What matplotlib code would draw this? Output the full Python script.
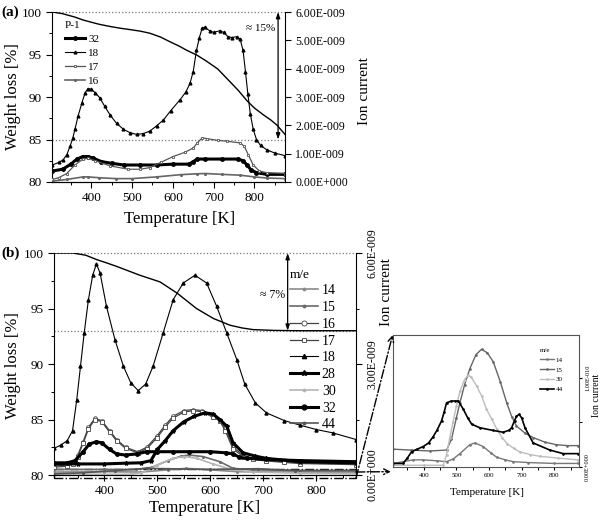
import matplotlib
matplotlib.use('Agg')
import matplotlib.pyplot as plt
from matplotlib.ticker import FuncFormatter, MultipleLocator
from matplotlib.patches import Rectangle

plt.rcParams['font.family'] = ['Liberation Serif', 'DejaVu Serif']

# ---------------- (a) sample P-1 ----------------
T_wl_a = [305, 330, 360, 380, 400, 420, 446, 470, 491, 520, 544, 570, 593, 615, 634, 660, 683, 710, 732, 760, 781, 800, 822, 840, 855, 875]
wl_a = [100.0, 99.8, 99.4, 99.06, 98.8, 98.55, 98.3, 98.1, 97.96, 97.75, 97.5, 97.05, 96.5, 96.0, 95.5, 94.9, 94.2, 93.3, 92.2, 90.8, 89.6, 88.7, 87.9, 87.3, 86.7, 85.6]

# ion currents in 1e-9 A
T18_a = [305, 320, 331, 340, 348, 355, 360, 368, 377, 385, 392, 400, 410, 421, 433, 446, 462, 479, 495, 511,
         528, 544, 560, 577, 595, 618, 632, 642, 650, 658, 665, 672, 678, 690, 700, 715, 725, 735, 745, 757,
         765, 772, 778, 784, 790, 797, 805, 815, 830, 850, 875]
i18_a = [0.60, 0.69, 0.78, 0.96, 1.26, 1.56, 1.86, 2.34, 2.79, 3.15, 3.30, 3.27, 3.15, 2.97, 2.67, 2.37, 2.07, 1.86, 1.74, 1.68,
         1.71, 1.80, 1.98, 2.19, 2.52, 2.91, 3.18, 3.48, 3.90, 4.65, 5.10, 5.43, 5.46, 5.34, 5.28, 5.34, 5.28, 5.13, 5.10, 5.13,
         5.04, 4.65, 3.90, 3.09, 2.40, 1.86, 1.50, 1.29, 1.14, 1.02, 0.93]
T32_a = [305, 330, 350, 365, 380, 392, 405, 425, 450, 480, 520, 560, 600, 640, 650, 660, 680, 720, 760, 772, 782, 792, 805, 830, 875]
i32_a = [0.39, 0.45, 0.63, 0.81, 0.90, 0.90, 0.84, 0.72, 0.66, 0.60, 0.60, 0.60, 0.63, 0.63, 0.72, 0.81, 0.81, 0.81, 0.81, 0.75, 0.60, 0.42, 0.33, 0.27, 0.27]
T17_a = [305, 320, 340, 360, 380, 392, 410, 446, 491, 520, 544, 570, 601, 630, 650, 660, 672, 683, 710, 732, 765, 775, 785, 797, 812, 830, 875]
i17_a = [0.09, 0.15, 0.30, 0.60, 0.81, 0.84, 0.75, 0.57, 0.45, 0.45, 0.51, 0.69, 0.90, 1.05, 1.20, 1.38, 1.56, 1.53, 1.47, 1.44, 1.38, 1.26, 0.96, 0.60, 0.39, 0.33, 0.30]
T16_a = [305, 340, 380, 392, 420, 460, 500, 560, 620, 660, 680, 720, 765, 800, 830, 875]
i16_a = [0.03, 0.09, 0.18, 0.18, 0.15, 0.12, 0.12, 0.18, 0.26, 0.29, 0.30, 0.27, 0.24, 0.18, 0.14, 0.12]

# ---------------- (b) ----------------
T_wl_b = [305, 341, 365, 386, 405, 423, 445, 467, 505, 537, 574, 606, 637, 660, 681, 720, 769, 875]
wl_b = [100.0, 100.0, 99.8, 99.4, 99.1, 98.8, 98.4, 98.0, 97.4, 96.4, 95.0, 94.1, 93.5, 93.25, 93.1, 93.03, 93.0, 93.0]

T18_b = [305, 318, 330, 340, 348, 355, 362, 370, 378, 385, 392, 404, 420, 436, 450, 464, 478, 492, 511, 530,
         549, 571, 593, 612, 631, 650, 665, 685, 706, 740, 769, 800, 831, 875]
i18_b = [0.72, 0.81, 0.93, 1.20, 2.04, 2.94, 3.84, 4.74, 5.40, 5.70, 5.46, 4.56, 3.66, 2.94, 2.49, 2.28, 2.46, 2.94, 3.84, 4.74,
         5.19, 5.40, 5.19, 4.56, 3.84, 3.12, 2.46, 1.95, 1.68, 1.47, 1.35, 1.23, 1.14, 0.96]
T16_b = [305, 330, 341, 350, 360, 370, 382, 395, 410, 423, 440, 463, 480, 499, 515, 530, 550, 567, 585, 605,
         618, 628, 643, 662, 680, 706, 740, 769, 875]
i16_b = [0.24, 0.27, 0.33, 0.54, 0.90, 1.29, 1.53, 1.47, 1.20, 0.96, 0.75, 0.63, 0.75, 1.05, 1.35, 1.59, 1.74, 1.77, 1.74, 1.59,
         1.50, 1.26, 0.75, 0.54, 0.45, 0.41, 0.36, 0.33, 0.30]
i17_b = [0.21, 0.24, 0.30, 0.50, 0.86, 1.24, 1.50, 1.44, 1.16, 0.93, 0.72, 0.60, 0.71, 1.00, 1.30, 1.54, 1.70, 1.74, 1.71, 1.56,
         1.46, 1.20, 0.70, 0.50, 0.42, 0.38, 0.34, 0.31, 0.28]
T32_b = [305, 330, 345, 360, 372, 385, 395, 410, 423, 440, 461, 480, 500, 530, 560, 600, 630, 643, 655, 670, 706, 769, 875]
i32_b = [0.33, 0.33, 0.39, 0.63, 0.84, 0.90, 0.87, 0.69, 0.57, 0.54, 0.57, 0.63, 0.63, 0.63, 0.63, 0.63, 0.60, 0.57, 0.48, 0.45, 0.42, 0.39, 0.36]
T28_b = [305, 350, 400, 440, 470, 488, 500, 515, 530, 550, 570, 590, 605, 618, 631, 643, 662, 685, 706, 769, 875]
i28_b = [0.30, 0.30, 0.30, 0.32, 0.33, 0.39, 0.69, 0.93, 1.20, 1.44, 1.59, 1.68, 1.65, 1.50, 1.32, 0.87, 0.60, 0.51, 0.45, 0.36, 0.33]
T15_b = [305, 400, 460, 490, 520, 545, 560, 586, 618, 643, 680, 769, 875]
i15_b = [0.15, 0.15, 0.15, 0.21, 0.39, 0.51, 0.54, 0.50, 0.36, 0.18, 0.14, 0.12, 0.12]
T30_b = [305, 450, 470, 500, 530, 550, 575, 605, 640, 680, 769, 875]
i30_b = [0.02, 0.02, 0.06, 0.27, 0.45, 0.50, 0.45, 0.30, 0.15, 0.08, 0.05, 0.03]
T14_b = [305, 400, 470, 520, 555, 600, 650, 769, 875]
i14_b = [0.08, 0.09, 0.08, 0.14, 0.18, 0.14, 0.09, 0.08, 0.08]
T44_b = [305, 360, 420, 480, 520, 600, 690, 760, 875]
i44_b = [0.03, 0.06, 0.12, 0.18, 0.17, 0.15, 0.17, 0.12, 0.12]

# ---------------- inset, 1e-10 A ----------------
T15_c = [307, 360, 420, 470, 485, 500, 511, 525, 541, 560, 577, 595, 613, 635, 654, 670, 684, 710, 735, 770, 806, 840, 872]
i15_c = [0.20, 0.19, 0.18, 0.19, 0.31, 0.55, 0.72, 0.92, 1.10, 1.26, 1.32, 1.28, 1.18, 0.95, 0.72, 0.56, 0.46, 0.38, 0.33, 0.28, 0.25, 0.24, 0.24]
T30_c = [307, 400, 460, 470, 480, 490, 500, 511, 525, 536, 545, 562, 577, 592, 608, 623, 640, 656, 675, 694, 725, 756, 810, 872]
i30_c = [0.02, 0.02, 0.02, 0.14, 0.33, 0.51, 0.68, 0.85, 0.98, 1.03, 1.01, 0.91, 0.80, 0.65, 0.54, 0.43, 0.33, 0.26, 0.21, 0.17, 0.14, 0.12, 0.10, 0.08]
T44_c = [307, 337, 350, 363, 380, 399, 415, 429, 442, 455, 463, 470, 485, 495, 506, 521, 535, 547, 572, 613,
         643, 660, 669, 678, 684, 692, 700, 710, 735, 786, 827, 872]
i44_c = [0.04, 0.04, 0.10, 0.17, 0.20, 0.23, 0.27, 0.34, 0.42, 0.52, 0.62, 0.72, 0.74, 0.74, 0.74, 0.65, 0.55, 0.48, 0.44, 0.41,
         0.39, 0.41, 0.44, 0.52, 0.57, 0.59, 0.55, 0.44, 0.27, 0.19, 0.15, 0.15]
T14_c = [307, 368, 399, 440, 470, 490, 511, 541, 557, 582, 605, 623, 650, 674, 720, 800, 872]
i14_c = [0.04, 0.08, 0.08, 0.07, 0.06, 0.09, 0.15, 0.25, 0.27, 0.23, 0.16, 0.11, 0.08, 0.06, 0.05, 0.04, 0.04]

xlim = (305, 875)
xticks = [400, 500, 600, 700, 800]


def fmt9(v, pos):
    return '0.00E+000' if abs(v) < 1e-6 else '%.2fE-009' % v


def fmt10(v, pos):
    return '0.00E+000' if abs(v) < 1e-6 else '%.2fE-010' % v


def base_style(ax, lsize=9.5):
    ax.set_xlim(*xlim)
    ax.set_xticks(xticks)
    ax.xaxis.set_minor_locator(MultipleLocator(50))
    ax.tick_params(direction='out', length=4, width=0.8, labelsize=lsize)
    ax.tick_params(which='minor', direction='out', length=2, width=0.7)


fig = plt.figure(figsize=(6.04, 5.2), dpi=100)

# ====== panel (a) ======
ax_a = fig.add_axes([0.0869, 0.65, 0.385, 0.3269])
ax_a2 = ax_a.twinx()
base_style(ax_a)
ax_a.set_ylim(80, 100)
ax_a.set_yticks([80, 85, 90, 95, 100])
ax_a.yaxis.set_minor_locator(MultipleLocator(2.5))
ax_a.spines['top'].set_visible(False)
ax_a.spines['right'].set_visible(False)
ax_a.axhline(100, color='#777777', ls=':', lw=0.9, clip_on=False)
ax_a.axhline(85, color='#777777', ls=':', lw=0.9)
ax_a.plot(T_wl_a, wl_a, color='black', lw=1.0)
ax_a.annotate('', xy=(858, 85), xytext=(858, 100),
              arrowprops=dict(arrowstyle='<|-|>,head_length=0.35,head_width=0.12', lw=0.9, color='black',
                              shrinkA=0, shrinkB=0))
ax_a.text(852, 98.1, '\u2248 15%', ha='right', va='center', fontsize=8)
ax_a.set_xlabel('Temperature [K]', fontsize=12)
ax_a.xaxis.set_label_coords(0.548, -0.17)
ax_a.set_ylabel('Weight loss [%]', fontsize=12)
ax_a.yaxis.set_label_coords(-0.135, 0.5)

ax_a2.set_ylim(0, 6)
ax_a2.set_yticks([0, 1, 2, 3, 4, 5, 6])
ax_a2.yaxis.set_major_formatter(FuncFormatter(fmt9))
ax_a2.tick_params(direction='out', length=4, width=0.8, labelsize=8.5)
ax_a2.spines['top'].set_visible(False)
ax_a2.spines['left'].set_visible(False)
h32, = ax_a2.plot(T32_a, i32_a, color='black', lw=2.2, marker='o', ms=2.5)
h18, = ax_a2.plot(T18_a, i18_a, color='black', lw=0.8, marker='^', ms=2.0)
h17, = ax_a2.plot(T17_a, i17_a, color='#555555', lw=0.9, marker='s', ms=2.0, mfc='white', mew=0.6)
h16, = ax_a2.plot(T16_a, i16_a, color='#666666', lw=1.2, marker='.', ms=2.5)
ax_a2.set_ylabel('Ion current', fontsize=11)
ax_a2.yaxis.set_label_coords(1.314, 0.535)
ax_a2.legend([h32, h18, h17, h16], ['32', '18', '17', '16'], title='P-1', loc='upper left',
             bbox_to_anchor=(0.054, 0.945), frameon=False, fontsize=8, title_fontsize=8,
             alignment='left', handlelength=1.8, handletextpad=0.3, labelspacing=0.38,
             borderpad=0, borderaxespad=0, numpoints=1)

# ====== panel (b) ======
ax_b = fig.add_axes([0.0894, 0.0865, 0.5, 0.4269])
ax_b2 = ax_b.twinx()
base_style(ax_b)
ax_b.set_ylim(80, 100)
ax_b.set_yticks([80, 85, 90, 95, 100])
ax_b.yaxis.set_minor_locator(MultipleLocator(2.5))
ax_b.spines['top'].set_visible(False)
ax_b.spines['right'].set_visible(False)
ax_b.axhline(100, color='#777777', ls=':', lw=0.9, clip_on=False)
ax_b.axhline(93, color='#777777', ls=':', lw=0.9)
ax_b.plot(T_wl_b, wl_b, color='black', lw=1.0)
ax_b.annotate('', xy=(746, 93), xytext=(746, 100),
              arrowprops=dict(arrowstyle='<|-|>,head_length=0.35,head_width=0.12', lw=0.9, color='black',
                              shrinkA=0, shrinkB=0))
ax_b.text(742, 96.2, '\u2248 7%', ha='right', va='center', fontsize=8.5)
ax_b.set_xlabel('Temperature [K]', fontsize=12)
ax_b.xaxis.set_label_coords(0.5, -0.113)
ax_b.set_ylabel('Weight loss [%]', fontsize=12)
ax_b.yaxis.set_label_coords(-0.109, 0.495)

# zoomed region box
box = Rectangle((305, 79.72), 570, 0.83, fill=False, ls='-.', lw=1.0, color='black', clip_on=False)
ax_b.add_patch(box)

ax_b2.set_ylim(0, 6)
ax_b2.set_yticks([0, 3, 6])
ax_b2.yaxis.set_minor_locator(MultipleLocator(1.5))
ax_b2.yaxis.set_major_formatter(FuncFormatter(fmt9))
ax_b2.tick_params(direction='out', length=4, width=0.8, labelsize=8.5, labelrotation=90)
ax_b2.tick_params(which='minor', direction='out', length=2, width=0.7)
for lbl in ax_b2.get_yticklabels():
    lbl.set_va('center')
ax_b2.spines['top'].set_visible(False)
ax_b2.spines['left'].set_visible(False)
g14, = ax_b2.plot(T14_b, i14_b, color='#8a8a8a', lw=1.2, marker='.', ms=2.5)
g15, = ax_b2.plot(T15_b, i15_b, color='#6a6a6a', lw=1.2, marker='.', ms=2.5)
g16, = ax_b2.plot(T16_b, i16_b, color='#444444', lw=0.9, marker='o', ms=2.6, mfc='white', mew=0.6)
g17, = ax_b2.plot(T16_b, i17_b, color='#444444', lw=0.9, marker='s', ms=2.4, mfc='white', mew=0.6)
g18, = ax_b2.plot(T18_b, i18_b, color='black', lw=0.8, marker='^', ms=2.2)
g28, = ax_b2.plot(T28_b, i28_b, color='black', lw=2.2, marker='*', ms=3)
g30, = ax_b2.plot(T30_b, i30_b, color='#b5b5b5', lw=1.2, marker='.', ms=2.5)
g32, = ax_b2.plot(T32_b, i32_b, color='black', lw=2.2, marker='o', ms=2.5)
g44, = ax_b2.plot(T44_b, i44_b, color='#555555', lw=1.2, marker='.', ms=2.5)
ax_b2.set_ylabel('Ion current', fontsize=11)
ax_b2.yaxis.set_label_coords(1.079, 0.824)
ax_b2.legend([g14, g15, g16, g17, g18, g28, g30, g32, g44],
             ['14', '15', '16', '17', '18', '28', '30', '32', '44'], title='m/e', loc='upper left',
             bbox_to_anchor=(0.781, 0.93), frameon=False, fontsize=10, title_fontsize=9.5,
             alignment='left', handlelength=2.0, handletextpad=0.3, labelspacing=0.27,
             borderpad=0, borderaxespad=0, numpoints=1, markerscale=1.4)

# ====== inset ======
ax_c = fig.add_axes([0.650, 0.1019, 0.3085, 0.2538])
base_style(ax_c, lsize=5)
ax_c.tick_params(length=2.5, pad=2)
ax_c.set_ylim(0, 1.48)
ax_c.yaxis.tick_right()
ax_c.set_yticks([0, 1])
ax_c.yaxis.set_minor_locator(MultipleLocator(0.5))
ax_c.yaxis.set_major_formatter(FuncFormatter(fmt10))
ax_c.tick_params(axis='y', labelsize=4.5, labelrotation=90)
for lbl in ax_c.get_yticklabels():
    lbl.set_va('center')
for sp in ax_c.spines.values():
    sp.set_color('#555555')
c14, = ax_c.plot(T14_c, i14_c, color='#777777', lw=1.0, marker='.', ms=1.8)
c15, = ax_c.plot(T15_c, i15_c, color='#666666', lw=1.0, marker='.', ms=1.8)
c30, = ax_c.plot(T30_c, i30_c, color='#bdbdbd', lw=1.0, marker='.', ms=1.8)
c44, = ax_c.plot(T44_c, i44_c, color='black', lw=1.2, marker='.', ms=1.8)
ax_c.set_xlabel('Temperature [K]', fontsize=8)
ax_c.xaxis.set_label_coords(0.506, -0.16)
ax_c.yaxis.set_label_position('right')
ax_c.set_ylabel('Ion current', fontsize=7)
ax_c.yaxis.set_label_coords(1.07, 0.545)
ax_c.legend([c14, c15, c30, c44], ['14', '15', '30', '44'], title='m/e', loc='upper left',
            bbox_to_anchor=(0.79, 0.9), frameon=False, fontsize=5, title_fontsize=5,
            alignment='left', handlelength=2.0, handletextpad=0.3, labelspacing=0.55,
            borderpad=0, borderaxespad=0, numpoints=1)

# dash-dot connectors from the zoom box to the inset
arrow_kw = dict(arrowstyle='->', ls='-.', lw=1.0, color='black', shrinkA=0, shrinkB=0)
ax_c.annotate('', xy=(0, 1), xycoords='axes fraction', xytext=(875, 79.72), textcoords=ax_b.transData,
              arrowprops=arrow_kw, annotation_clip=False)
ax_c.annotate('', xy=(-0.01, -0.035), xycoords='axes fraction', xytext=(875, 80.27), textcoords=ax_b.transData,
              arrowprops=arrow_kw, annotation_clip=False)

fig.text(0.003, 1 - 12 / 520, '(a)', fontsize=11, fontweight='bold', va='center')
fig.text(0.003, 1 - 253 / 520, '(b)', fontsize=11, fontweight='bold', va='center')

fig.savefig('out.png', dpi=100)
